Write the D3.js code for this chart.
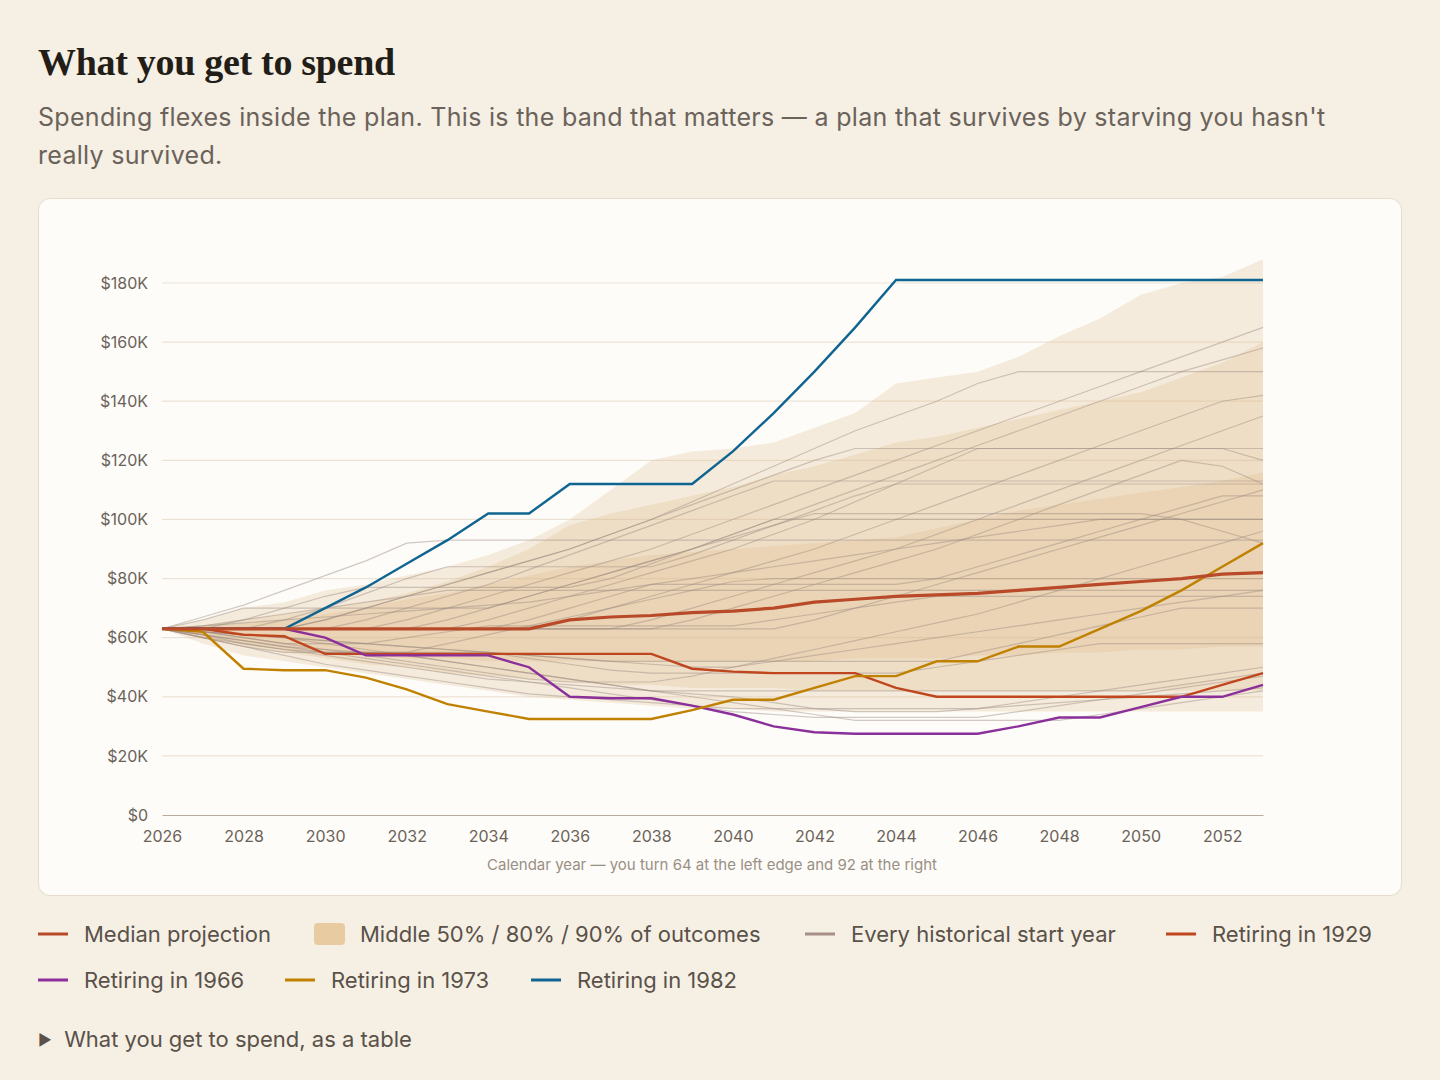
<!DOCTYPE html>
<html>
<head>
<meta charset="utf-8">
<script src="https://cdn.jsdelivr.net/npm/d3@7"></script>
<style>
  body { margin: 0; background: #f5efe4; font-family: Inter, "Noto Sans", sans-serif; }
  h1 { position: absolute; left: 38px; top: 40px; margin: 0; font-family: "Liberation Serif", "DejaVu Serif", serif; font-weight: bold; font-size: 38px; color: #231d17; letter-spacing: -0.3px; }
  .sub { position: absolute; left: 38px; top: 98px; width: 1340px; font-size: 25px; line-height: 38px; color: #6b625a; letter-spacing: 0.3px; }
  .card { position: absolute; left: 38px; top: 198px; width: 1362px; height: 696px; background: #fdfcf8; border: 1.5px solid #e6dccd; border-radius: 12px; }
  svg { position: absolute; left: 0; top: 0; }
  .foot { position: absolute; left: 38px; top: 1026px; font-size: 22px; color: #5a5149; }
  .foot span { font-size: 15px; vertical-align: 2px; }
</style>
</head>
<body>
<h1>What you get to spend</h1>
<div class="sub">Spending flexes inside the plan. This is the band that matters — a plan that survives by starving you hasn't really survived.</div>
<div class="card"></div>
<div class="foot"><span>▶</span>&nbsp; What you get to spend, as a table</div>
<script>
// years 2026..2053, values in $K
const years = d3.range(2026, 2054)
const yTicks = [0, 20, 40, 60, 80, 100, 120, 140, 160, 180]
const xTicks = [2026, 2028, 2030, 2032, 2034, 2036, 2038, 2040, 2042, 2044, 2046, 2048, 2050, 2052]

const p95 = [63,66,70,72,76,78,81,84,88,93,100,110,120,123,124,126,131,136,146,148,150,155,162,168,176,180,182,188]
const p90 = [63,64,66,68,70,72,75,79,84,90,98,102,105,108,111,115,118,122,126,128,131,134,137,140,143,148,153,160]
const p75 = [63,64,65,66,68,70,73,75,78,81,84,86,88,89,90,91,92,93,94,97,100,103,105,107,109,111,113,116]
const p25 = [63,60,58,56,55,54,53,53,52,52,52,52,52,52,52,52,52,53,53,53,54,54,55,55,56,56,57,57]
const p10 = [63,60,57,55,53,51,50,48,47,46,45,44,44,43,43,43,42,42,42,42,42,42,42,42,42,42,42,42]
const p05 = [63,58,54,52,50,48,46,44,42,40,39,38,37,36,36,35,35,35,35,35,35,35,35,35,35,35,35,35]

const median = [63,63,63,63,63,63,63,63,63,63,66,67,67.5,68.5,69,70,72,73,74,74.5,75,76,77,78,79,80,81.5,82]
const r1929 = [63,63,61,60.5,54.5,54.5,54.5,54.5,54.5,54.5,54.5,54.5,54.5,49.5,48.5,48,48,48,43,40,40,40,40,40,40,40,44,48]
const r1966 = [63,63,63,63,60,54,54,54,54,50,40,39.5,39.5,37,34,30,28,27.5,27.5,27.5,27.5,30,33,33,36.5,40,40,44]
const r1973 = [63,62,49.5,49,49,46.5,42.5,37.5,35,32.5,32.5,32.5,32.5,35.5,39,39,43,47,47,52,52,57,57,63,69,76,84,92]
const r1982 = [63,63,63,63,70,77,85,93,102,102,112,112,112,112,123,136,150,165,181,181,181,181,181,181,181,181,181,181]

const history = [
  [63,67,71,76,81,86,92,93,93,93,93,93,93,93,93,93,93,93,93,93,93,93,93,93,93,93,93,93],
  [63,66,70,70,70,70,70,70,70,74,78,82,86,90,94,98,102,102,102,102,102,102,102,102,102,100,96,92],
  [63,63,63,66,70,75,80,84,84,84,84,84,84,88,93,98,103,108,112,112,112,112,112,112,112,112,112,112],
  [63,63,66,70,74,77,77,77,77,77,77,80,85,90,95,100,100,100,100,100,100,100,100,100,100,100,100,100],
  [63,63,63,63,66,70,74,78,82,86,90,95,100,106,112,118,124,130,135,140,146,150,150,150,150,150,150,150],
  [63,62,60,58,58,58,60,62,64,64,64,64,64,64,64,66,68,70,72,74,74,74,74,74,74,74,74,74],
  [63,60,57,55,55,55,55,55,55,53,51,49,48,48,48,48,48,48,48,50,52,54,56,58,58,58,58,58],
  [63,61,59,57,56,55,54,52,50,48,46,44,42,42,42,42,42,42,42,42,42,42,42,42,42,44,46,48],
  [63,62,61,60,58,56,54,52,50,48,46,44,42,40,38,36,34,32,32,32,32,32,32,34,36,38,40,42],
  [63,63,63,63,63,63,63,63,66,70,74,78,82,86,90,95,100,106,112,118,124,124,124,124,124,124,124,120],
  [63,63,63,63,63,66,70,74,78,83,88,93,98,103,108,113,113,113,113,113,113,113,113,113,113,113,113,113],
  [63,63,63,63,63,63,63,63,63,63,66,70,74,78,82,86,90,95,100,105,110,115,120,125,130,135,140,142],
  [63,63,63,63,63,63,63,63,63,63,63,63,66,70,74,78,82,86,90,95,100,105,110,115,120,125,130,135],
  [63,64,66,68,70,72,74,76,76,76,76,76,76,76,76,76,76,76,76,76,76,76,76,76,76,76,76,76],
  [63,62,60,58,56,54,52,50,48,46,45,45,45,47,50,53,56,59,62,65,68,72,76,80,84,88,92,96],
  [63,61,58,56,54,52,50,48,46,45,44,43,42,41,40,38,36,35,35,35,36,38,40,42,44,46,48,50],
  [63,63,63,63,63,63,63,66,70,74,78,82,86,90,95,100,105,110,115,120,125,130,135,140,145,150,154,158],
  [63,63,63,63,63,63,63,63,63,63,63,63,63,66,70,74,78,82,86,90,95,100,105,110,115,120,118,112],
  [63,63,63,63,66,70,74,78,82,86,90,95,100,105,110,115,120,124,124,124,124,124,124,124,124,124,124,124],
  [63,62,61,60,59,58,57,56,55,54,53,52,52,52,52,52,52,52,52,52,55,58,61,64,67,70,70,70],
  [63,63,63,63,63,63,66,70,74,78,82,86,90,95,100,105,110,115,120,125,130,135,140,145,150,155,160,165],
  [63,61,59,57,55,53,51,49,47,45,43,41,39,37,35,34,33,33,33,33,33,35,37,39,41,43,45,47],
  [63,63,63,63,63,63,63,63,63,66,70,74,78,78,78,78,78,78,78,80,84,88,92,96,100,104,108,108],
  [63,60,58,56,55,55,55,58,61,64,67,70,73,76,79,80,80,80,80,80,80,80,80,80,80,80,80,80],
  [63,64,65,66,67,68,69,70,71,72,74,76,78,80,82,84,86,88,90,92,94,96,98,100,100,100,100,100],
  [63,62,61,60,59,58,57,56,55,54,53,52,51,50,50,52,54,56,58,60,62,64,66,68,70,72,74,76],
  [63,63,63,63,63,63,63,63,63,63,63,63,63,63,63,63,66,70,74,78,82,86,90,94,98,102,106,110],
  [63,60,57,54,51,49,47,45,43,41,40,39,38,37,36,36,36,36,36,36,36,37,38,39,40,41,42,43]
]

const legendItems = [
  { label: 'Median projection', type: 'line', color: '#b84a2a' },
  { label: 'Middle 50% / 80% / 90% of outcomes', type: 'band', color: '#e8cba0' },
  { label: 'Every historical start year', type: 'line', color: '#a89088' },
  { label: 'Retiring in 1929', type: 'line', color: '#c0461f' },
  { label: 'Retiring in 1966', type: 'line', color: '#8b2f9a' },
  { label: 'Retiring in 1973', type: 'line', color: '#c08000' },
  { label: 'Retiring in 1982', type: 'line', color: '#0f6491' }
]

const svg = d3.select('body').append('svg').attr('width', 1440).attr('height', 1080)

const x = d3.scaleLinear().domain([2026, 2053]).range([162, 1263])
const y = d3.scaleLinear().domain([0, 180]).range([815, 283])

// gridlines
svg.append('g').selectAll('line').data(yTicks.slice(1)).enter().append('line')
  .attr('x1', 162).attr('x2', 1263)
  .attr('y1', d => y(d)).attr('y2', d => y(d))
  .attr('stroke', '#ece3d6').attr('stroke-width', 1.2)

// bands
const area = (lo, hi) => d3.area()
  .x((d, i) => x(years[i]))
  .y0((d, i) => y(lo[i]))
  .y1((d, i) => y(hi[i]))(years)
;[[p05, p95], [p10, p90], [p25, p75]].forEach(b => {
  svg.append('path').attr('d', area(b[0], b[1]))
    .attr('fill', '#dcb27a').attr('opacity', 0.22)
})

const line = d3.line().x((d, i) => x(years[i])).y(d => y(d))

svg.append('g').selectAll('path').data(history).enter().append('path')
  .attr('d', line).attr('fill', 'none')
  .attr('stroke', '#9c8a80').attr('stroke-opacity', 0.45).attr('stroke-width', 1.2)

const named = [[r1929, '#c0461f'], [r1966, '#8b2f9a'], [r1973, '#c08000'], [r1982, '#0f6491']]
named.forEach(n => {
  svg.append('path').attr('d', line(n[0])).attr('fill', 'none')
    .attr('stroke', n[1]).attr('stroke-width', 2.4)
})
svg.append('path').attr('d', line(median)).attr('fill', 'none')
  .attr('stroke', '#b84a2a').attr('stroke-width', 3.2)

// axes
const yAxis = svg.append('g').attr('transform', 'translate(162,0)')
  .call(d3.axisLeft(y).tickValues(yTicks).tickSize(0).tickPadding(14).tickFormat(d => d === 0 ? '$0' : '$' + d + 'K'))
yAxis.select('.domain').remove()
yAxis.selectAll('text').attr('font-size', 16).attr('fill', '#6b625a').attr('font-family', 'Inter')

const xAxis = svg.append('g').attr('transform', 'translate(0,815)')
  .call(d3.axisBottom(x).tickValues(xTicks).tickSize(0).tickPadding(16).tickFormat(d3.format('d')))
xAxis.select('.domain').attr('stroke', '#b8aca0')
xAxis.selectAll('text').attr('font-size', 16).attr('fill', '#6b625a').attr('font-family', 'Inter')

svg.append('text').attr('x', 712).attr('y', 870).attr('text-anchor', 'middle')
  .attr('font-size', 15).attr('fill', '#9a8f85')
  .text('Calendar year — you turn 64 at the left edge and 92 at the right')

// legend
const rows = [[0, 1, 2, 3], [4, 5, 6]]
const rowX = [[38, 314, 805, 1166], [38, 285, 531]]
rows.forEach((r, ri) => {
  r.forEach((idx, ci) => {
    const it = legendItems[idx]
    const g = svg.append('g').attr('transform', `translate(${rowX[ri][ci]},${934 + ri * 46})`)
    if (it.type === 'line') {
      g.append('line').attr('x1', 0).attr('x2', 30).attr('stroke', it.color).attr('stroke-width', 3)
    } else {
      g.append('rect').attr('x', 0).attr('y', -11).attr('width', 31).attr('height', 22).attr('rx', 4).attr('fill', it.color)
    }
    g.append('text').attr('x', 46).attr('y', 8)
      .attr('font-size', 22).attr('fill', '#5a5149').text(it.label)
  })
})
</script>
</body>
</html>
